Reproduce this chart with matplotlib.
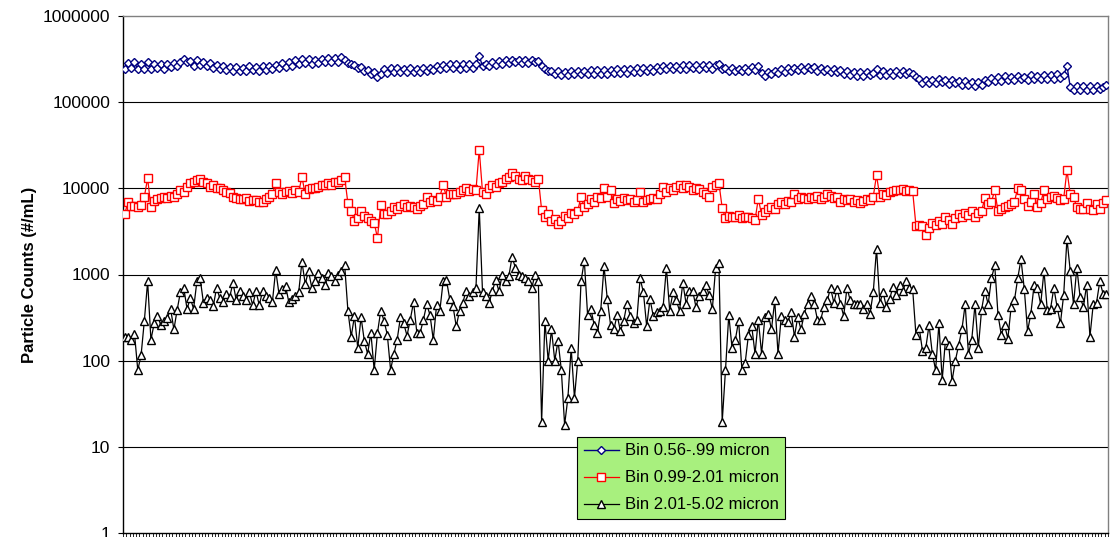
import matplotlib
matplotlib.use("Agg")
import matplotlib.pyplot as plt
from matplotlib.ticker import FixedLocator, FixedFormatter, NullLocator, NullFormatter

plt.rcParams['font.family'] = ['Liberation Sans', 'DejaVu Sans']

# ---------------- data ----------------
bin_056_099 = [
    245000, 285000, 250000, 290000, 240000, 280000, 245000, 290000, 240000, 275000,
    250000, 280000, 245000, 275000, 255000, 285000, 260000, 295000, 320000, 290000,
    300000, 265000, 305000, 270000, 290000, 260000, 285000, 250000, 270000, 240000,
    260000, 235000, 258000, 230000, 255000, 232000, 250000, 228000, 260000, 235000,
    255000, 232000, 262000, 238000, 265000, 242000, 270000, 250000, 285000, 258000,
    290000, 265000, 305000, 275000, 320000, 282000, 315000, 280000, 312000, 285000,
    318000, 290000, 322000, 292000, 325000, 295000, 330000, 305000, 285000, 275000,
    270000, 248000, 255000, 232000, 238000, 215000, 222000, 195000, 212000, 240000,
    218000, 248000, 222000, 250000, 225000, 245000, 222000, 246000, 224000, 240000,
    225000, 248000, 230000, 252000, 238000, 262000, 245000, 272000, 250000, 275000,
    248000, 275000, 245000, 278000, 252000, 275000, 250000, 280000, 345000, 260000,
    280000, 260000, 290000, 268000, 298000, 275000, 305000, 282000, 310000, 290000,
    312000, 285000, 310000, 288000, 312000, 290000, 300000, 262000, 245000, 228000,
    232000, 210000, 228000, 205000, 226000, 208000, 230000, 210000, 232000, 212000,
    232000, 212000, 235000, 214000, 236000, 212000, 238000, 215000, 238000, 218000,
    240000, 218000, 242000, 220000, 244000, 222000, 246000, 224000, 248000, 228000,
    252000, 230000, 258000, 236000, 260000, 240000, 262000, 240000, 265000, 245000,
    268000, 245000, 270000, 246000, 268000, 244000, 272000, 248000, 268000, 245000,
    268000, 280000, 240000, 252000, 230000, 248000, 228000, 245000, 228000, 250000,
    232000, 255000, 235000, 265000, 218000, 200000, 225000, 212000, 232000, 218000,
    245000, 225000, 250000, 230000, 252000, 235000, 258000, 236000, 255000, 240000,
    255000, 232000, 252000, 228000, 245000, 225000, 240000, 222000, 236000, 215000,
    228000, 205000, 225000, 200000, 222000, 202000, 225000, 205000, 220000, 240000,
    205000, 228000, 206000, 226000, 208000, 228000, 210000, 230000, 212000, 225000,
    215000, 195000, 185000, 168000, 180000, 165000, 182000, 168000, 185000, 170000,
    180000, 164000, 182000, 165000, 178000, 160000, 175000, 158000, 170000, 155000,
    170000, 158000, 182000, 170000, 192000, 175000, 195000, 178000, 200000, 182000,
    198000, 180000, 202000, 185000, 198000, 182000, 205000, 186000, 202000, 185000,
    205000, 186000, 208000, 188000, 210000, 190000, 205000, 265000, 150000, 138000,
    155000, 138000, 156000, 140000, 154000, 138000, 155000, 142000, 150000, 160000,
]

bin_099_201 = [
    5000, 6900, 6300, 6200, 6000, 6400, 8000, 13100, 6000, 7200,
    7500, 7800, 8000, 7700, 8200, 8000, 8500, 9500, 9000, 10500,
    11500, 12000, 12500, 12800, 12000, 11500, 10500, 11000, 10000, 10200,
    9500, 9000, 8800, 8000, 7800, 7600, 7500, 7800, 7200, 7400,
    7300, 7000, 7000, 7500, 8000, 8500, 11500, 9000, 8500, 9000,
    9200, 8800, 9500, 9000, 13600, 8500, 9800, 10200, 10000, 10500,
    11000, 10800, 11500, 11000, 12000, 11800, 12500, 13500, 6700, 5500,
    4200, 4500, 5500, 4800, 4500, 4200, 4000, 2650, 6400, 5000,
    5000, 5500, 6000, 5800, 6200, 6500, 6000, 6300, 6000, 5800,
    6200, 6500, 8000, 7000, 7400, 7200, 8000, 11000, 8000, 8500,
    8700, 8500, 9000, 9500, 10000, 9200, 9800, 9500, 28000, 9000,
    8700, 10000, 11000, 10500, 11500, 12000, 13000, 13500, 15000, 14000,
    13000, 12500, 14000, 13000, 12500, 12000, 13000, 5600, 4600, 5000,
    4200, 4400, 3900, 4200, 4800, 4500, 5200, 5000, 5500, 8000,
    6000, 6500, 7500, 7000, 8000, 7800, 10000, 8000, 9500, 6800,
    7600, 7200, 7800, 7300, 7500, 7000, 7300, 9000, 7000, 7400,
    7600, 7800, 7500, 8500, 10500, 9000, 10000, 9500, 10500, 11000,
    10000, 11000, 10500, 9500, 10200, 9800, 9000, 8500, 8000, 10500,
    11000, 11500, 5900, 4500, 4800, 4600, 4700, 4900, 4500, 4600,
    4700, 4500, 4300, 7600, 4900, 5300, 5800, 6000, 5700, 6500,
    7000, 6500, 7200, 7000, 8500, 7500, 8000, 7700, 7500, 8000,
    7800, 8200, 7500, 8000, 8500, 8200, 7800, 8000, 7000, 7500,
    7300, 7500, 7000, 7400, 6700, 7200, 7600, 7300, 8000, 14200,
    8000, 8600, 8300, 9000, 9300, 9600, 9500, 9700, 9400, 9500,
    9300, 3700, 3800, 3700, 2850, 3500, 4000, 3800, 4200, 3900,
    4600, 4300, 3900, 4500, 5000, 4700, 5200, 4900, 5500, 4600,
    5200, 5500, 7700, 6500, 7000, 9500, 5400, 5800, 6000, 6300,
    6500, 7000, 10000, 9500, 7500, 6300, 7000, 8500, 6000, 6800,
    9500, 7500, 8000, 8200, 7800, 7300, 7600, 16200, 8500, 8000,
    6000, 5700, 5800, 6700, 5700, 5600, 6500, 5800, 6800, 7300,
]

bin_201_502 = [
    190, 190, 175, 205, 78, 115, 290, 830, 175, 270,
    330, 260, 290, 310, 400, 230, 390, 630, 700, 400,
    530, 400, 830, 900, 470, 540, 500, 430, 700, 530,
    480, 600, 550, 800, 500, 650, 560, 500, 620, 440,
    640, 440, 640, 560, 530, 480, 1130, 600, 680, 740,
    480, 520, 560, 620, 1400, 780, 1100, 700, 850, 1050,
    900, 750, 1050, 950, 850, 1000, 1100, 1300, 380, 190,
    330, 140, 320, 170, 120, 210, 78, 210, 380, 290,
    200, 78, 120, 175, 320, 270, 195, 300, 480, 210,
    210, 300, 450, 340, 175, 440, 380, 830, 870, 520,
    430, 250, 380, 470, 650, 570, 620, 700, 5900, 620,
    560, 470, 640, 870, 640, 1000, 830, 950, 1600, 1200,
    980, 950, 900, 850, 700, 1000, 830, 19.5, 290, 100,
    230, 100, 170, 78, 18, 37, 140, 37, 100, 830,
    1450, 340, 400, 260, 210, 380, 1250, 520, 260, 230,
    340, 220, 290, 460, 330, 270, 300, 900, 620, 250,
    520, 330, 370, 380, 420, 1200, 380, 620, 500, 380,
    800, 460, 650, 650, 420, 570, 650, 760, 580, 400,
    1200, 1350, 19.5, 78, 340, 140, 175, 290, 78, 95,
    200, 250, 120, 300, 120, 320, 350, 230, 500, 120,
    330, 300, 280, 370, 190, 320, 230, 350, 460, 570,
    460, 300, 300, 420, 500, 700, 470, 680, 460, 330,
    700, 500, 450, 460, 450, 400, 450, 350, 620, 2000,
    470, 620, 420, 520, 720, 580, 760, 650, 830, 700,
    680, 200, 240, 130, 140, 260, 120, 78, 270, 60,
    175, 150, 58, 100, 150, 230, 450, 120, 175, 450,
    140, 390, 650, 450, 900, 1280, 340, 200, 260, 180,
    420, 500, 900, 1500, 680, 220, 350, 760, 700, 450,
    1100, 390, 400, 700, 420, 270, 580, 2600, 1100, 450,
    1200, 550, 420, 760, 190, 450, 470, 830, 600, 600,
]

series_labels = ["Bin 0.56-.99 micron", "Bin 0.99-2.01 micron", "Bin 2.01-5.02 micron"]
y_tick_values = [1, 10, 100, 1000, 10000, 100000, 1000000]
y_tick_labels = ["1", "10", "100", "1000", "10000", "100000", "1000000"]
y_axis_label = "Particle Counts (#/mL)"

# ---------------- figure ----------------
W, H = 1113, 537
fig = plt.figure(figsize=(W / 100, H / 100), dpi=100)
ax = fig.add_axes([123 / W, (H - 533) / H, 985 / W, 517 / H])

n = len(bin_056_099)
x = list(range(n))

ax.plot(x, bin_056_099, color='#000080', lw=1.0, marker='D', ms=4.2,
        mfc='white', mec='#000080', mew=1.0, label=series_labels[0], zorder=3)
ax.plot(x, bin_099_201, color='#FF0000', lw=0.9, marker='s', ms=5.4,
        mfc='white', mec='#FF0000', mew=1.0, label=series_labels[1], zorder=4)
ax.plot(x, bin_201_502, color='black', lw=0.9, marker='^', ms=5.8,
        mfc='white', mec='black', mew=1.0, label=series_labels[2], zorder=5)

ax.set_yscale('log')
ax.set_ylim(1, 1000000)
ax.set_xlim(-0.5, n - 0.5)

for v in y_tick_values[1:-1]:
    ax.axhline(v, color='black', lw=0.8, zorder=1)

ax.yaxis.set_major_locator(FixedLocator(y_tick_values))
ax.yaxis.set_major_formatter(FixedFormatter(y_tick_labels))
ax.yaxis.set_minor_locator(NullLocator())
ax.tick_params(axis='y', which='major', direction='out', length=3.6, width=0.8,
               pad=5.5, labelsize=12.5, colors='black')

ax.xaxis.set_major_locator(FixedLocator([i - 0.5 for i in range(n + 1)]))
ax.xaxis.set_major_formatter(NullFormatter())
ax.xaxis.set_minor_locator(NullLocator())
ax.tick_params(axis='x', which='major', direction='out', length=4, width=0.6)

ax.set_ylabel(y_axis_label, fontsize=12, fontweight='bold', labelpad=4)

for s in ['left', 'bottom']:
    ax.spines[s].set_color('black')
    ax.spines[s].set_linewidth(1.0)
for s in ['top', 'right']:
    ax.spines[s].set_color('#808080')
    ax.spines[s].set_linewidth(1.0)

leg = ax.legend(loc='lower left', bbox_to_anchor=(0.461, 0.027), fontsize=12,
                frameon=True, fancybox=False, shadow=False, framealpha=1,
                facecolor='#A8F07E', edgecolor='black', handlelength=2.1,
                handletextpad=0.35, labelspacing=0.72, borderpad=0.4,
                borderaxespad=0)
leg.get_frame().set_linewidth(0.8)
leg.set_zorder(10)

fig.savefig('out.png', dpi=100)
